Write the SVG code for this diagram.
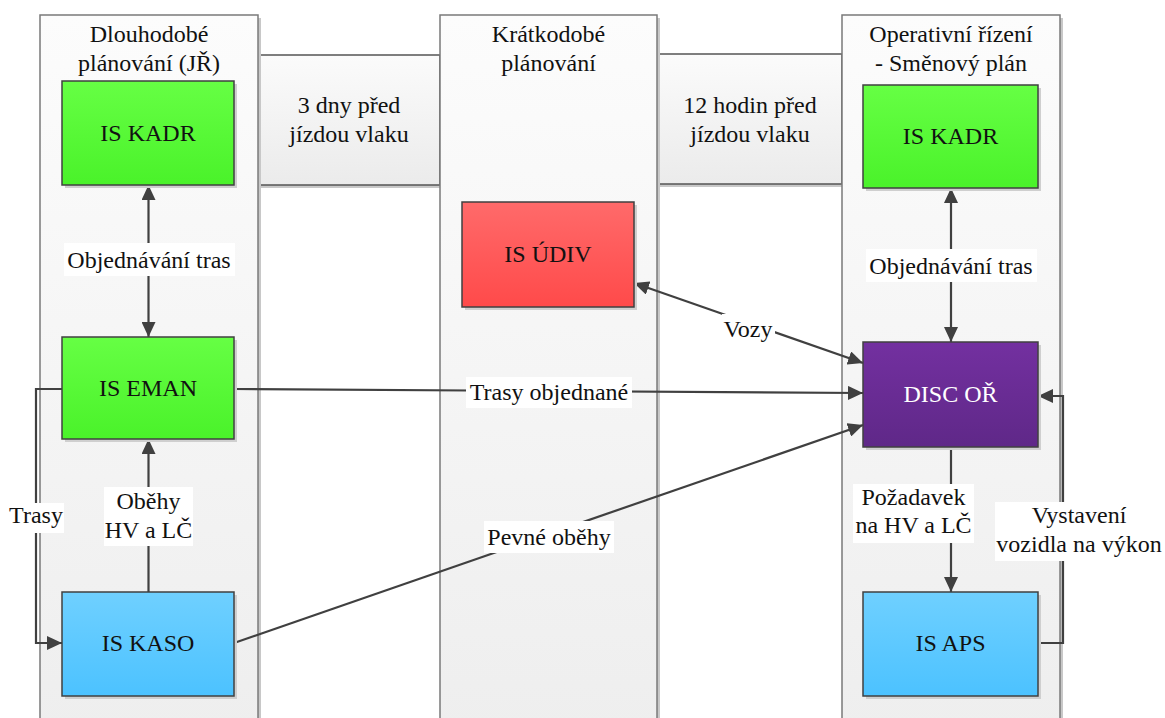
<svg xmlns="http://www.w3.org/2000/svg" width="1165" height="718" viewBox="0 0 1165 718">
  <defs>
    <linearGradient id="gCol" x1="0" y1="0" x2="0" y2="1">
      <stop offset="0" stop-color="#fcfcfc"/>
      <stop offset="1" stop-color="#eeeeee"/>
    </linearGradient>
    <linearGradient id="gBand" x1="0" y1="0" x2="0" y2="1">
      <stop offset="0" stop-color="#fbfbfb"/>
      <stop offset="1" stop-color="#ebebeb"/>
    </linearGradient>
    <linearGradient id="gGreen" x1="0" y1="0" x2="0" y2="1">
      <stop offset="0" stop-color="#66ff44"/>
      <stop offset="1" stop-color="#4af22a"/>
    </linearGradient>
    <linearGradient id="gBlue" x1="0" y1="0" x2="0" y2="1">
      <stop offset="0" stop-color="#6fd0ff"/>
      <stop offset="1" stop-color="#4cc2ff"/>
    </linearGradient>
    <linearGradient id="gRed" x1="0" y1="0" x2="0" y2="1">
      <stop offset="0" stop-color="#ff6a6a"/>
      <stop offset="1" stop-color="#ff4a4a"/>
    </linearGradient>
    <linearGradient id="gPurple" x1="0" y1="0" x2="0" y2="1">
      <stop offset="0" stop-color="#7330a0"/>
      <stop offset="1" stop-color="#5f2888"/>
    </linearGradient>
    <marker id="arr" markerUnits="userSpaceOnUse" markerWidth="16" markerHeight="14" refX="15" refY="7" orient="auto-start-reverse">
      <path d="M0,0 L15,7 L0,14 Z" fill="#404040"/>
    </marker>
    <style>
      text { font-family: 'Liberation Serif', 'DejaVu Serif', serif; font-size: 24px; fill: #111; text-anchor: middle; }
      .col { fill: url(#gCol); stroke: #7a7a7a; stroke-width: 1.5; }
      .band { fill: url(#gBand); stroke: #555; stroke-width: 1.5; }
      .shadow { fill: #c8c8c8; }
      .node { stroke: #404040; stroke-width: 1.5; }
      .nshadow { fill: #cfcfcf; }
      .edge { fill: none; stroke: #404040; stroke-width: 2.2; }
      .lbl { fill: #ffffff; }
      .light { fill: #ffffff; }
    </style>
  </defs>

  <!-- time bands between columns -->
  <g id="band-3-days">
    <rect class="shadow" x="261" y="58" width="182" height="130"/>
    <rect class="band" x="258" y="55" width="182" height="130"/>
    <text x="349" y="113">3 dny před</text>
    <text x="349" y="142">jízdou vlaku</text>
  </g>
  <g id="band-12-hours">
    <rect class="shadow" x="660" y="57" width="185" height="130"/>
    <rect class="band" x="657" y="54" width="185" height="130"/>
    <text x="750" y="113">12 hodin před</text>
    <text x="750" y="142">jízdou vlaku</text>
  </g>

  <!-- planning columns -->
  <g id="col-long-term">
    <rect class="shadow" x="43" y="18" width="218" height="720"/>
    <rect class="col" x="40" y="15" width="218" height="720"/>
    <text x="149" y="42">Dlouhodobé</text>
    <text x="149" y="71">plánování (JŘ)</text>
  </g>
  <g id="col-short-term">
    <rect class="shadow" x="443" y="18" width="217" height="720"/>
    <rect class="col" x="440" y="15" width="217" height="720"/>
    <text x="548.5" y="42">Krátkodobé</text>
    <text x="548.5" y="71">plánování</text>
  </g>
  <g id="col-operative">
    <rect class="shadow" x="845" y="18" width="218" height="720"/>
    <rect class="col" x="842" y="15" width="218" height="720"/>
    <text x="951" y="42">Operativní řízení</text>
    <text x="951" y="71">- Směnový plán</text>
  </g>

  <!-- connectors -->
  <g id="connectors">
    <line class="edge" x1="148.5" y1="185" x2="148.5" y2="337" marker-start="url(#arr)" marker-end="url(#arr)"/>
    <line class="edge" x1="148.5" y1="592" x2="148.5" y2="439" marker-end="url(#arr)"/>
    <polyline class="edge" points="62,389 36,389 36,643 62,643" marker-end="url(#arr)"/>
    <line class="edge" x1="234" y1="389" x2="863" y2="393" marker-end="url(#arr)"/>
    <line class="edge" x1="234" y1="643" x2="863" y2="425" marker-end="url(#arr)"/>
    <line class="edge" x1="634" y1="283" x2="863" y2="363" marker-start="url(#arr)" marker-end="url(#arr)"/>
    <line class="edge" x1="951" y1="188" x2="951" y2="342" marker-start="url(#arr)" marker-end="url(#arr)"/>
    <line class="edge" x1="951" y1="447" x2="951" y2="592" marker-end="url(#arr)"/>
    <polyline class="edge" points="1038,643 1063,643 1063,396 1038,396" marker-end="url(#arr)"/>

    <rect class="lbl" x="64" y="243" width="171" height="33"/>
    <text x="149" y="268">Objednávání tras</text>
    <rect class="lbl" x="104" y="487" width="89" height="59"/>
    <text x="148.5" y="509">Oběhy</text>
    <text x="148.5" y="538">HV a LČ</text>
    <rect class="lbl" x="8" y="503" width="56" height="30"/>
    <text x="36" y="523">Trasy</text>
    <rect class="lbl" x="466" y="377" width="166" height="31"/>
    <text x="549" y="400">Trasy objednané</text>
    <rect class="lbl" x="484" y="521" width="130" height="32"/>
    <text x="549" y="545">Pevné oběhy</text>
    <rect class="lbl" x="722" y="314" width="53" height="31"/>
    <text x="748" y="337">Vozy</text>
    <rect class="lbl" x="866" y="249" width="171" height="33"/>
    <text x="951" y="274">Objednávání tras</text>
    <rect class="lbl" x="853" y="484" width="121" height="59"/>
    <text x="913.5" y="505">Požadavek</text>
    <text x="913.5" y="533">na HV a LČ</text>
    <rect class="lbl" x="995" y="502" width="170" height="59"/>
    <text x="1079" y="523">Vystavení</text>
    <text x="1079" y="552">vozidla na výkon</text>
  </g>

  <!-- system nodes -->
  <g id="is-kadr-left">
    <rect class="nshadow" x="65" y="84" width="172" height="104"/>
    <rect class="node" x="62" y="81" width="172" height="104" fill="url(#gGreen)"/>
    <text x="148" y="141">IS KADR</text>
  </g>
  <g id="is-eman">
    <rect class="nshadow" x="65" y="340" width="172" height="102"/>
    <rect class="node" x="62" y="337" width="172" height="102" fill="url(#gGreen)"/>
    <text x="148" y="396">IS EMAN</text>
  </g>
  <g id="is-kaso">
    <rect class="nshadow" x="65" y="595" width="172" height="104"/>
    <rect class="node" x="62" y="592" width="172" height="104" fill="url(#gBlue)"/>
    <text x="148" y="651">IS KASO</text>
  </g>
  <g id="is-udiv">
    <rect class="nshadow" x="465" y="205" width="172" height="105"/>
    <rect class="node" x="462" y="202" width="172" height="105" fill="url(#gRed)"/>
    <text x="548" y="262">IS ÚDIV</text>
  </g>
  <g id="is-kadr-right">
    <rect class="nshadow" x="866" y="88" width="175" height="103"/>
    <rect class="node" x="863" y="85" width="175" height="103" fill="url(#gGreen)"/>
    <text x="950.5" y="144">IS KADR</text>
  </g>
  <g id="disc-or">
    <rect class="nshadow" x="866" y="345" width="175" height="105"/>
    <rect class="node" x="863" y="342" width="175" height="105" fill="url(#gPurple)"/>
    <text class="light" x="950.5" y="402">DISC OŘ</text>
  </g>
  <g id="is-aps">
    <rect class="nshadow" x="866" y="595" width="175" height="104"/>
    <rect class="node" x="863" y="592" width="175" height="104" fill="url(#gBlue)"/>
    <text x="950.5" y="651">IS APS</text>
  </g>
</svg>
